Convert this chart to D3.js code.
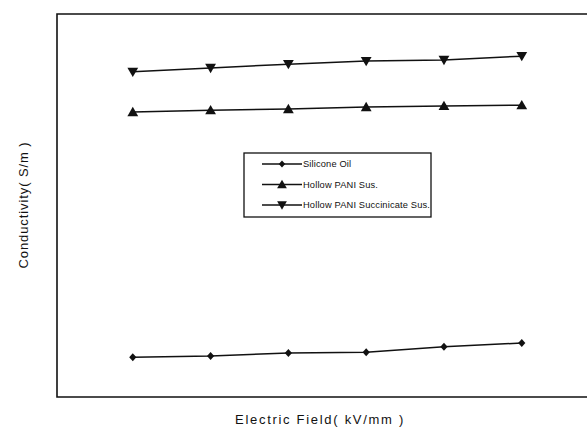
<!DOCTYPE html>
<html>
<head>
<meta charset="utf-8">
<script src="https://cdn.jsdelivr.net/npm/d3@7"></script>
<style>
  html, body { margin: 0; padding: 0; background: #fff; }
  svg { display: block; }
</style>
</head>
<body>
<svg id="chart" width="587" height="433"></svg>
<script>
// Electric field (kV/mm) at each measurement
const fields = [0.5, 1.0, 1.5, 2.0, 2.5, 3.0];

// Conductivity readings (arbitrary relative units, no tick scale shown)
const siliconeOil = [1.04, 1.07, 1.15, 1.17, 1.31, 1.41];
const hollowPani = [7.44, 7.49, 7.52, 7.57, 7.60, 7.62];
const hollowPaniSuccinicate = [8.49, 8.59, 8.69, 8.77, 8.80, 8.90];

const seriesNames = ["Silicone Oil", "Hollow PANI Sus.", "Hollow PANI Succinicate Sus."];
const seriesValues = [siliconeOil, hollowPani, hollowPaniSuccinicate];
const seriesSymbols = ["diamond", "up", "down"];

const xLabel = "Electric Field( kV/mm )";
const yLabel = "Conductivity( S/m )";

const svg = d3.select("#chart");
const ink = "#111";
const font = "Liberation Sans, Arial, sans-serif";

const frame = { left: 57, top: 14, right: 600, bottom: 397 };

const x = d3.scaleLinear().domain([0, 3.4]).range([55, 584]);
const y = d3.scaleLinear().domain([0, 10]).range([frame.bottom, frame.bottom - 383]);

// plot frame (open on the right, running off the page)
svg.append("path")
  .attr("d", `M${frame.right},${frame.top} H${frame.left} V${frame.bottom} H${frame.right}`)
  .attr("fill", "none")
  .attr("stroke", ink)
  .attr("stroke-width", 1.6);

function symbolPath(kind, s = 1) {
  if (kind === "diamond") return `M0,${-4 * s} L${3.6 * s},0 L0,${4 * s} L${-3.6 * s},0 Z`;
  if (kind === "up") return `M0,${-5.2 * s} L${5.4 * s},${4.2 * s} L${-5.4 * s},${4.2 * s} Z`;
  return `M0,${5.2 * s} L${5.4 * s},${-4.2 * s} L${-5.4 * s},${-4.2 * s} Z`;
}

const line = d3.line().x((d, i) => x(fields[i])).y(d => y(d));

seriesValues.forEach((vals, s) => {
  svg.append("path")
    .attr("d", line(vals))
    .attr("fill", "none")
    .attr("stroke", ink)
    .attr("stroke-width", 1.5);
  svg.selectAll(null)
    .data(vals)
    .enter()
    .append("path")
    .attr("d", symbolPath(seriesSymbols[s]))
    .attr("transform", (d, i) => `translate(${x(fields[i])},${y(d)})`)
    .attr("fill", ink);
});

// legend
const legend = svg.append("g").attr("transform", "translate(244,153)");
legend.append("rect")
  .attr("x", 0).attr("y", 0)
  .attr("width", 187).attr("height", 64)
  .attr("fill", "#fff")
  .attr("stroke", ink)
  .attr("stroke-width", 1.3);
seriesNames.forEach((name, i) => {
  const ly = 11 + i * 20.5;
  legend.append("line")
    .attr("x1", 18).attr("x2", 58)
    .attr("y1", ly).attr("y2", ly)
    .attr("stroke", ink).attr("stroke-width", 1.4);
  legend.append("path")
    .attr("d", symbolPath(seriesSymbols[i], 0.9))
    .attr("transform", `translate(38,${ly})`)
    .attr("fill", ink);
  legend.append("text")
    .attr("x", 59).attr("y", ly + 3.4)
    .attr("font-family", font)
    .attr("font-size", 9.3)
    .attr("letter-spacing", 0.15)
    .attr("fill", ink)
    .text(name);
});

// axis titles
svg.append("text")
  .attr("x", 320).attr("y", 424)
  .attr("text-anchor", "middle")
  .attr("font-family", font)
  .attr("font-size", 13)
  .attr("letter-spacing", 1.7)
  .attr("fill", ink)
  .text(xLabel);

svg.append("text")
  .attr("transform", "translate(28,205) rotate(-90)")
  .attr("text-anchor", "middle")
  .attr("font-family", font)
  .attr("font-size", 13)
  .attr("letter-spacing", 0.9)
  .attr("fill", ink)
  .text(yLabel);
</script>
</body>
</html>
